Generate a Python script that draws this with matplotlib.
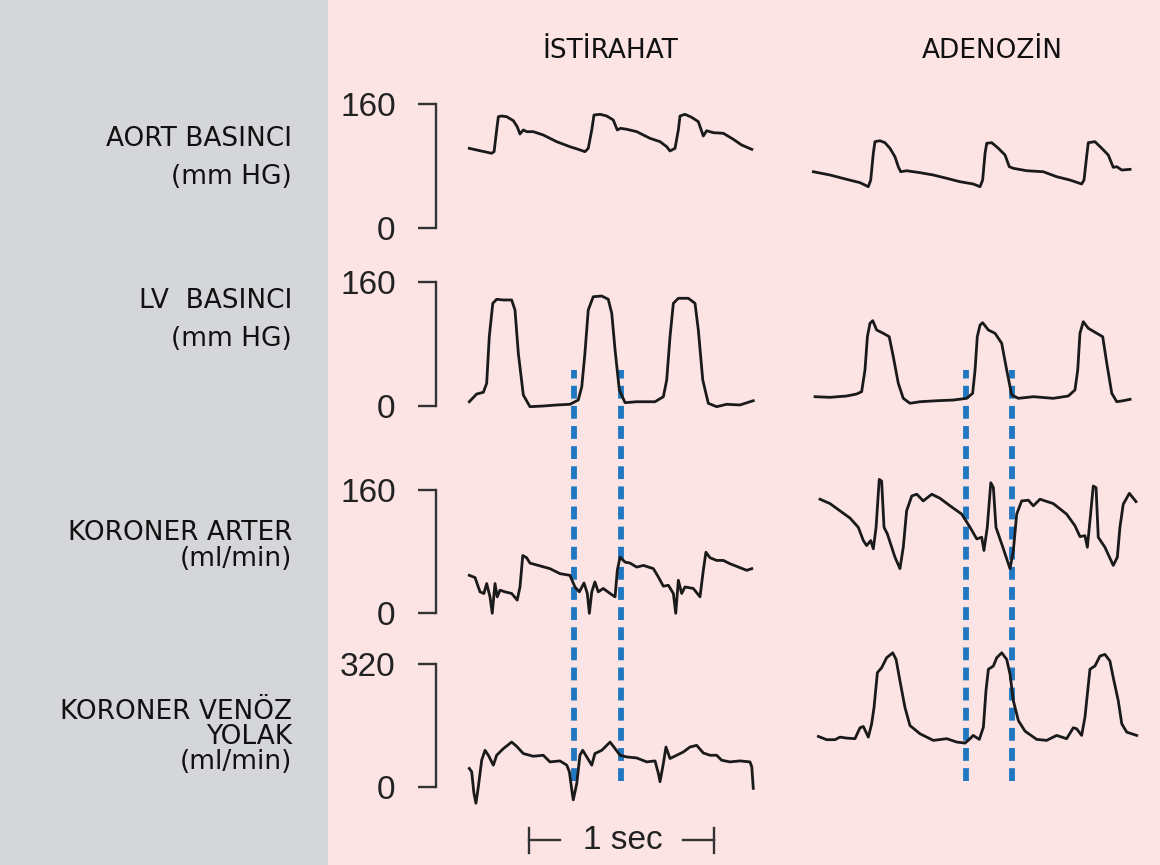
import matplotlib
matplotlib.use("Agg")
import matplotlib.pyplot as plt
from matplotlib.patches import Rectangle

W, H = 1160, 865
PINK = '#fce4e4'
GRAY = '#d4d6d9'
INK = '#1a1a1a'
BLUE = '#1f78c1'

# headers and row labels
cond_titles = ['İSTİRAHAT', 'ADENOZİN']
row_labels = ['AORT BASINCI\n(mm HG)',
              'LV  BASINCI\n(mm HG)',
              'KORONER ARTER\n(ml/min)',
              'KORONER VENÖZ\nYOLAK\n(ml/min)']
full_scale = [160, 160, 160, 320]

# traces: time [s], value (mmHg or ml/min)
aort_rest_t = [0.007, 0.065, 0.128, 0.141, 0.155, 0.164, 0.182, 0.209, 0.245, 0.266, 0.281, 0.299, 0.317, 0.353,
               0.407, 0.479, 0.551, 0.596, 0.632, 0.650, 0.669, 0.681, 0.714, 0.750, 0.785, 0.807, 0.825, 0.858,
               0.912, 0.984, 1.038, 1.074, 1.092, 1.119, 1.137, 1.146, 1.173, 1.209, 1.245, 1.272, 1.290, 1.326,
               1.380, 1.434, 1.479, 1.534]
aort_rest_v = [102.8, 99.7, 96.4, 98.5, 126.5, 143.6, 144.5, 143.6, 138.5, 130.7, 121.3, 126.5, 124.3, 124.3,
               120.0, 111.4, 104.9, 101.5, 98.5, 102.8, 126.5, 145.8, 146.7, 144.5, 139.4, 126.5, 128.6, 127.4,
               124.3, 115.7, 111.4, 104.9, 99.4, 102.8, 126.5, 144.5, 146.7, 142.8, 137.2, 118.7, 125.5, 123.0,
               122.2, 114.5, 107.1, 101.5]
aort_aden_t = [0.002, 0.092, 0.182, 0.254, 0.299, 0.312, 0.326, 0.335, 0.362, 0.389, 0.416, 0.443, 0.461, 0.474,
               0.506, 0.578, 0.650, 0.723, 0.795, 0.866, 0.903, 0.917, 0.930, 0.939, 0.966, 1.002, 1.038, 1.061,
               1.083, 1.155, 1.245, 1.317, 1.389, 1.452, 1.465, 1.479, 1.488, 1.524, 1.561, 1.596, 1.623, 1.642,
               1.669, 1.714]
aort_aden_v = [72.6, 68.4, 62.8, 58.5, 53.3, 61.9, 96.4, 111.4, 112.6, 110.1, 102.8, 92.0, 79.1, 72.6,
               73.9, 71.4, 68.4, 64.1, 59.7, 56.8, 53.3, 61.9, 96.4, 109.3, 110.1, 102.8, 94.2, 79.1,
               77.0, 73.9, 72.6, 66.2, 61.9, 56.8, 61.9, 92.0, 110.1, 111.4, 102.8, 94.2, 78.3, 79.1,
               74.8, 75.7]

lv_rest_t = [0.007, 0.047, 0.083, 0.101, 0.115, 0.134, 0.155, 0.191, 0.236, 0.254, 0.272, 0.299, 0.335, 0.407,
             0.479, 0.551, 0.596, 0.615, 0.632, 0.650, 0.677, 0.723, 0.758, 0.777, 0.795, 0.818, 0.849, 0.912,
             1.011, 1.056, 1.074, 1.092, 1.110, 1.137, 1.191, 1.227, 1.245, 1.269, 1.299, 1.344, 1.398, 1.470,
             1.524, 1.542]
lv_rest_v = [5.5, 15.5, 17.7, 29.3, 89.4, 132.5, 137.7, 136.8, 136.8, 123.9, 68.0, 14.2, -0.9, 0.0,
             1.3, 2.2, 7.7, 24.9, 68.0, 123.9, 141.0, 141.9, 137.7, 119.6, 72.3, 20.6, 4.3, 5.5,
             5.5, 12.0, 33.5, 89.4, 132.5, 139.0, 139.0, 132.5, 98.1, 33.5, 3.5, -0.9, 2.2, 1.3,
             5.5, 6.8]
lv_aden_t = [0.011, 0.092, 0.182, 0.236, 0.263, 0.281, 0.294, 0.308, 0.323, 0.344, 0.380, 0.412, 0.434, 0.461,
             0.488, 0.524, 0.578, 0.669, 0.758, 0.831, 0.863, 0.876, 0.888, 0.903, 0.917, 0.948, 0.984, 1.020,
             1.047, 1.074, 1.110, 1.191, 1.299, 1.380, 1.416, 1.431, 1.443, 1.461, 1.488, 1.534, 1.566, 1.588,
             1.615, 1.642, 1.677, 1.714]
lv_aden_v = [12.0, 11.2, 12.9, 15.5, 18.5, 46.5, 89.4, 106.7, 110.1, 98.1, 93.8, 89.4, 63.6, 29.3,
             9.9, 3.5, 5.5, 6.8, 7.7, 9.9, 16.4, 46.5, 89.4, 104.5, 107.5, 98.1, 93.8, 80.9,
             46.5, 14.2, 9.9, 12.0, 9.9, 12.9, 20.6, 46.5, 93.8, 108.8, 100.3, 93.8, 89.4, 55.1,
             16.4, 5.5, 6.8, 8.6]

art_rest_t = [0.007, 0.038, 0.065, 0.086, 0.101, 0.119, 0.131, 0.146, 0.158, 0.173, 0.200, 0.236, 0.266, 0.281,
              0.296, 0.317, 0.335, 0.380, 0.443, 0.497, 0.551, 0.578, 0.602, 0.627, 0.645, 0.656, 0.669, 0.686,
              0.704, 0.731, 0.768, 0.795, 0.807, 0.822, 0.849, 0.876, 0.912, 0.948, 1.002, 1.029, 1.056, 1.083,
              1.110, 1.123, 1.137, 1.155, 1.173, 1.218, 1.254, 1.272, 1.286, 1.308, 1.344, 1.380, 1.416, 1.470,
              1.507, 1.534]
art_rest_v = [49.0, 46.1, 27.5, 25.4, 38.3, 21.0, -0.4, 38.3, 21.0, 29.7, 27.5, 25.4, 16.8, 33.9,
              74.8, 71.9, 64.9, 61.9, 57.7, 51.2, 49.0, 33.9, 27.5, 39.1, 25.4, -0.4, 27.5, 40.4,
              27.5, 31.9, 25.4, 21.0, 55.5, 72.6, 66.2, 64.9, 59.7, 61.9, 57.7, 46.8, 34.8, 36.1,
              25.4, -0.4, 42.6, 25.4, 33.9, 31.9, 21.0, 55.5, 79.1, 71.9, 68.4, 68.4, 64.1, 59.0,
              55.5, 57.7]
art_aden_t = [0.038, 0.092, 0.146, 0.200, 0.245, 0.272, 0.290, 0.312, 0.326, 0.341, 0.358, 0.371, 0.384, 0.402,
              0.443, 0.470, 0.488, 0.506, 0.534, 0.561, 0.596, 0.642, 0.686, 0.741, 0.804, 0.849, 0.885, 0.912,
              0.924, 0.942, 0.961, 0.975, 0.989, 1.020, 1.065, 1.083, 1.101, 1.128, 1.164, 1.191, 1.227, 1.299,
              1.371, 1.416, 1.443, 1.470, 1.483, 1.497, 1.515, 1.530, 1.542, 1.578, 1.623, 1.645, 1.659, 1.677,
              1.710, 1.746]
art_aden_v = [148.0, 142.3, 132.9, 123.5, 111.4, 94.2, 87.7, 94.2, 83.5, 111.4, 173.8, 171.6, 111.4, 102.8,
              72.6, 57.7, 85.5, 132.9, 152.3, 154.5, 145.8, 154.5, 149.3, 139.4, 128.6, 111.4, 96.4, 98.5,
              81.3, 111.4, 169.4, 163.0, 111.4, 89.9, 57.7, 81.3, 128.6, 145.8, 146.7, 139.4, 148.0, 142.3,
              128.6, 113.5, 99.4, 100.6, 85.5, 120.0, 165.2, 163.0, 98.5, 85.5, 61.9, 72.6, 111.4, 141.5,
              155.7, 144.9]

ven_rest_t = [0.007, 0.020, 0.032, 0.043, 0.056, 0.074, 0.092, 0.110, 0.137, 0.155, 0.191, 0.236, 0.263, 0.299,
              0.353, 0.407, 0.443, 0.497, 0.534, 0.548, 0.561, 0.569, 0.588, 0.605, 0.620, 0.642, 0.669, 0.686,
              0.723, 0.768, 0.795, 0.822, 0.858, 0.912, 0.966, 1.011, 1.029, 1.038, 1.056, 1.070, 1.092, 1.128,
              1.164, 1.200, 1.236, 1.272, 1.308, 1.344, 1.371, 1.416, 1.470, 1.524, 1.534, 1.542]
ven_rest_v = [48.3, 39.5, -16.3, -42.1, 0.8, 69.7, 95.5, 82.6, 56.8, 82.6, 99.9, 116.9, 105.8, 87.0,
              80.0, 82.6, 65.3, 67.9, 56.8, 39.5, -7.7, -33.5, 9.5, 82.6, 95.5, 78.2, 56.8, 87.0,
              95.5, 116.9, 99.9, 82.6, 78.2, 75.6, 65.3, 67.9, 35.4, 13.7, 61.2, 104.0, 74.1, 82.6,
              91.1, 104.0, 108.4, 88.5, 82.6, 82.6, 69.7, 65.3, 67.9, 65.3, 52.4, -3.4]
ven_aden_t = [0.029, 0.074, 0.119, 0.146, 0.182, 0.227, 0.254, 0.272, 0.299, 0.317, 0.330, 0.348, 0.371, 0.398,
              0.431, 0.449, 0.470, 0.497, 0.524, 0.578, 0.650, 0.723, 0.777, 0.822, 0.849, 0.866, 0.899, 0.921,
              0.935, 0.948, 0.975, 0.993, 1.020, 1.047, 1.065, 1.083, 1.110, 1.146, 1.209, 1.263, 1.317, 1.371,
              1.407, 1.425, 1.452, 1.470, 1.497, 1.524, 1.551, 1.578, 1.605, 1.623, 1.650, 1.669, 1.696, 1.750]
ven_aden_v = [131.6, 123.1, 123.1, 129.8, 127.2, 125.7, 154.1, 157.4, 129.8, 164.4, 207.2, 297.5, 310.4, 336.3,
              349.1, 332.1, 276.1, 207.2, 160.0, 138.6, 121.3, 125.7, 116.9, 114.3, 125.7, 134.2, 123.9, 155.6,
              250.3, 306.3, 314.8, 336.3, 349.1, 332.1, 293.4, 224.5, 172.9, 145.3, 123.9, 121.3, 134.2, 125.7,
              154.1, 151.5, 134.2, 181.4, 306.3, 314.8, 340.6, 345.0, 327.7, 284.6, 224.5, 164.4, 142.7, 134.2]

rest_traces = [(aort_rest_t, aort_rest_v), (lv_rest_t, lv_rest_v),
               (art_rest_t, art_rest_v), (ven_rest_t, ven_rest_v)]
aden_traces = [(aort_aden_t, aort_aden_v), (lv_aden_t, lv_aden_v),
               (art_aden_t, art_aden_v), (ven_aden_t, ven_aden_v)]

# dashed markers (s) for the beat in the middle
rest_marks = [0.575, 0.827]
aden_marks = [0.825, 1.077]

# ---- layout (pixels) ----
row_zero_px = [228, 406, 613, 787]
row_top_px = [104, 282, 490, 664]
PX_PER_S = 185.0
rest_x0, rest_origin, rest_x1 = 436, 468, 770
aden_x0, aden_origin, aden_x1 = 800, 813, 1150


def rect(x0, x1, ytop, ybot):
    return [x0 / W, 1 - ybot / H, (x1 - x0) / W, (ybot - ytop) / H]


fig = plt.figure(figsize=(W / 100, H / 100), dpi=100)
fig.patch.set_facecolor(PINK)
fig.patches.append(Rectangle((0, 0), 328 / W, 1, transform=fig.transFigure,
                             facecolor=GRAY, edgecolor='none', zorder=-1))

rest_xlim = ((rest_x0 - rest_origin) / PX_PER_S, (rest_x1 - rest_origin) / PX_PER_S)
aden_xlim = ((aden_x0 - aden_origin) / PX_PER_S, (aden_x1 - aden_origin) / PX_PER_S)

# blue dashed guide lines spanning rows 2-4
for x0, x1, xlim, marks in [(rest_x0, rest_x1, rest_xlim, rest_marks),
                            (aden_x0, aden_x1, aden_xlim, aden_marks)]:
    bx = fig.add_axes(rect(x0, x1, 370, 781), zorder=0)
    bx.set_xlim(xlim)
    bx.axis('off')
    for m in marks:
        bx.axvline(m, color=BLUE, lw=4.2, linestyle=(0, (2.2, 1.25)))

for i in range(4):
    F = full_scale[i]
    # rest axes with bracket scale
    ax = fig.add_axes(rect(rest_x0, rest_x1, row_top_px[i], row_zero_px[i]), zorder=1)
    ax.patch.set_visible(False)
    ax.set_xlim(rest_xlim)
    ax.set_ylim(0, F)
    t, v = rest_traces[i]
    ax.plot(t, v, color=INK, lw=2.0, clip_on=False, solid_joinstyle='round')
    for s in ['top', 'right', 'bottom']:
        ax.spines[s].set_visible(False)
    ax.spines['left'].set_bounds(0, F)
    ax.spines['left'].set_linewidth(1.7)
    ax.spines['left'].set_color('#333333')
    ax.set_xticks([])
    ax.set_yticks([0, F])
    ax.set_yticklabels(['0', str(F)], fontfamily='Liberation Sans', fontsize=24, color='#222222')
    ax.tick_params(axis='y', length=13, width=1.7, color='#333333', pad=16)

    # adenosine axes
    ax2 = fig.add_axes(rect(aden_x0, aden_x1, row_top_px[i], row_zero_px[i]), zorder=1)
    ax2.patch.set_visible(False)
    ax2.set_xlim(aden_xlim)
    ax2.set_ylim(0, F)
    t, v = aden_traces[i]
    ax2.plot(t, v, color=INK, lw=2.0, clip_on=False, solid_joinstyle='round')
    ax2.axis('off')

    if i == 3:
        # 1 sec scale bar under the rest traces
        bar_start, bar_len = 0.33, 1.0
        yb = -139
        hh = 33
        ax.plot([bar_start, bar_start], [yb - hh, yb + hh], color='#333333', lw=1.7, clip_on=False)
        ax.plot([bar_start + bar_len] * 2, [yb - hh, yb + hh], color='#333333', lw=1.7, clip_on=False)
        ax.plot([bar_start, bar_start + 0.167], [yb, yb], color='#333333', lw=1.7, clip_on=False)
        ax.plot([bar_start + bar_len - 0.168, bar_start + bar_len], [yb, yb], color='#333333', lw=1.7,
                clip_on=False)
        ax.text(bar_start + bar_len / 2 + 0.005, yb, '1 sec', ha='center', va='center',
                fontfamily='Liberation Sans', fontsize=24, color='#222222')

# headers
for title, cx in zip(cond_titles, [610, 992]):
    fig.text(cx / W, 1 - 51 / H, title, ha='center', va='center',
             fontfamily='DejaVu Sans', fontsize=19, color='#111111')

# row labels in the gray panel (block centre, line spacing)
label_cy = [158, 320, 546, 737]
label_ls = [1.57, 1.57, 0.99, 0.95]
for txt, cy, ls in zip(row_labels, label_cy, label_ls):
    fig.text(292 / W, 1 - cy / H, txt, ha='right', va='center', multialignment='right',
             linespacing=ls, fontfamily='DejaVu Sans', fontsize=19, color='#111111')

fig.savefig('out.png', dpi=100, facecolor=fig.get_facecolor())
